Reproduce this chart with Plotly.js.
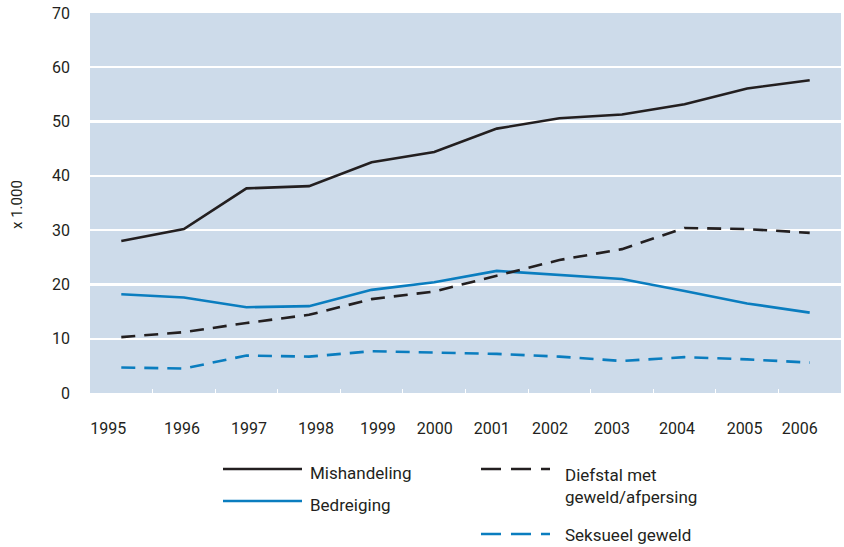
<!DOCTYPE html>
<html>
<head>
<meta charset="utf-8">
<script src="https://cdn.plot.ly/plotly-3.0.1.min.js"></script>
<style>html,body{margin:0;padding:0;background:#fff;}#chart{width:844px;height:547px;}</style>
</head>
<body>
<div id="chart"></div>
<script>
// ---- data ----
var years = ["1995","1996","1997","1998","1999","2000","2001","2002","2003","2004","2005","2006"];
var mishandeling = [28.0, 30.2, 37.7, 38.1, 42.5, 44.4, 48.7, 50.6, 51.3, 53.2, 56.1, 57.6];
var bedreiging   = [18.2, 17.6, 15.8, 16.0, 19.0, 20.4, 22.5, 21.7, 21.0, 18.8, 16.5, 14.8];
var diefstal     = [10.3, 11.2, 12.9, 14.4, 17.3, 18.7, 21.6, 24.5, 26.5, 30.4, 30.2, 29.5];
var seksueel     = [4.7, 4.5, 6.9, 6.7, 7.7, 7.4, 7.2, 6.7, 5.9, 6.6, 6.2, 5.6];
var seriesNames = ["Mishandeling", "Bedreiging", "Diefstal met<br>geweld/afpersing", "Seksueel geweld"];
var yTicks = [0, 10, 20, 30, 40, 50, 60, 70];

// ---- styling ----
var BLACK = "#231f20", BLUE = "#0a7dbf", FONT = "Roboto, 'Liberation Sans', Arial, sans-serif";
var DASH = "14px,9px";

var traces = [
  {x: years, y: mishandeling, name: seriesNames[0], line: {color: BLACK, width: 2.6}},
  {x: years, y: bedreiging,   name: seriesNames[1], line: {color: BLUE,  width: 2.6}},
  {x: years, y: diefstal,     name: seriesNames[2], line: {color: BLACK, width: 2.6, dash: DASH}},
  {x: years, y: seksueel,     name: seriesNames[3], line: {color: BLUE,  width: 2.6, dash: DASH}}
].map(function (t) { t.type = "scatter"; t.mode = "lines"; t.hoverinfo = "x+y+name"; return t; });

// year labels placed as in the original print layout (axis units of the category scale)
var labelShift = [-0.21, -0.03, 0.04, 0.11, 0.10, 0.01, -0.08, -0.15, -0.16, -0.12, -0.04, -0.16];
var labelVals = years.map(function (y, i) { return i + labelShift[i]; });
// invisible helper trace to activate the label axis
traces.push({x: [-0.5, 11.5], y: [0, 0], xaxis: "x2", mode: "lines", line: {width: 0, color: "rgba(0,0,0,0)"}, hoverinfo: "skip", showlegend: false});

// ---- custom legend (shapes + annotations in pixel-derived paper coords) ----
var W = 844, H = 547, ML = 90, MR = 3, MT = 13, MB = 154;
var PW = W - ML - MR, PH = H - MT - MB;
function px(x) { return (x - ML) / PW; }
function py(y) { return (H - MB - y) / PH; }
var legendItems = [
  {name: seriesNames[0], color: BLACK, dash: "solid", x0: 223, x1: 302, y: 469, tx: 308, ty: 473},
  {name: seriesNames[1], color: BLUE,  dash: "solid", x0: 223, x1: 302, y: 501, tx: 308, ty: 505},
  {name: seriesNames[2], color: BLACK, dash: "20px,10px", x0: 481, x1: 550, y: 469, tx: 563, ty: 486},
  {name: seriesNames[3], color: BLUE,  dash: "20px,10px", x0: 481, x1: 550, y: 534, tx: 563, ty: 535}
];
var shapes = [], annotations = [];
legendItems.forEach(function (it) {
  shapes.push({type: "line", xref: "paper", yref: "paper", x0: px(it.x0), x1: px(it.x1), y0: py(it.y), y1: py(it.y),
               line: {color: it.color, width: 2.4, dash: it.dash}});
  annotations.push({xref: "paper", yref: "paper", x: px(it.tx), y: py(it.ty), xanchor: "left", yanchor: "middle",
                    text: it.name, showarrow: false, align: "left", font: {family: FONT, size: 17, color: BLACK}});
});
annotations.push({xref: "paper", yref: "paper", x: px(17), y: py(205), text: "x 1.000", textangle: -90,
                  showarrow: false, xanchor: "center", yanchor: "middle", font: {family: FONT, size: 15, color: BLACK}});

var layout = {
  width: W, height: H,
  margin: {l: ML, r: MR, t: MT, b: MB, pad: 0},
  paper_bgcolor: "#ffffff",
  plot_bgcolor: "#cddbea",
  showlegend: false,
  font: {family: FONT, size: 16, color: BLACK},
  xaxis: {
    type: "category", range: [-0.5, 11.5], fixedrange: true,
    showgrid: false, zeroline: false, showline: false,
    ticks: "inside", tickson: "boundaries", ticklen: 4, tickcolor: "#ffffff", tickwidth: 1,
    showticklabels: false
  },
  xaxis2: {
    overlaying: "x", anchor: "y", side: "bottom", type: "linear", range: [-0.5, 11.5],
    tickmode: "array", tickvals: labelVals, ticktext: years,
    showgrid: false, zeroline: false, showline: false, ticks: "",
    ticklabelstandoff: 24,
    tickfont: {family: FONT, size: 16, color: BLACK}
  },
  yaxis: {
    range: [0, 70], tickmode: "array", tickvals: yTicks, fixedrange: true,
    showgrid: true, gridcolor: "#ffffff", gridwidth: 2.2,
    zeroline: false, showline: false, ticks: "",
    ticklabelstandoff: 19,
    tickfont: {family: FONT, size: 16, color: BLACK}
  },
  shapes: shapes,
  annotations: annotations
};

Plotly.newPlot("chart", traces, layout, {displayModeBar: false, staticPlot: true});
</script>
</body>
</html>
